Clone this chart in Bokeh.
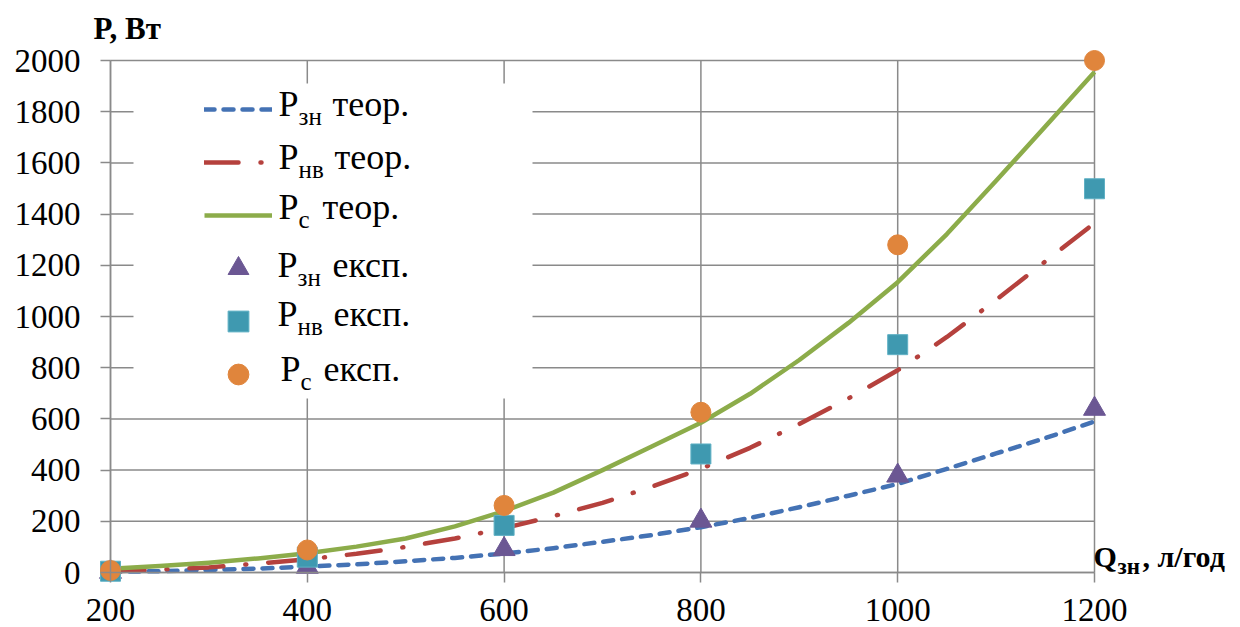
from bokeh.plotting import figure
from bokeh.models import Label, BoxAnnotation, Legend, LegendItem, FixedTicker, Range1d
from bokeh.core.properties import value
from bokeh.embed import file_html
from bokeh.resources import INLINE

# ---- data ----
q_theor = [200, 250, 300, 350, 400, 450, 500, 550, 600, 650, 700,
           750, 800, 850, 900, 950, 1000, 1050, 1100, 1150, 1200]
p_zn_theor = [3, 5, 10, 15, 23, 32, 44, 57, 74, 95, 120,
              146, 177, 213, 255, 300, 346, 405, 465, 525, 590]
p_nv_theor = [5, 11, 20, 35, 52, 73, 100, 133, 173, 220, 272,
              335, 405, 487, 580, 680, 790, 920, 1065, 1215, 1365]
p_s_theor = [15, 25, 38, 55, 75, 101, 133, 180, 240, 312, 400,
             492, 585, 698, 830, 975, 1134, 1322, 1530, 1742, 1955]

q_exp = [200, 400, 600, 800, 1000, 1200]
p_zn_exp = [2, 22, 91, 202, 378, 639]
p_nv_exp = [5, 60, 184, 463, 890, 1499]
p_s_exp = [8, 88, 262, 626, 1280, 2000]

x_ticks = [200, 400, 600, 800, 1000, 1200]
y_ticks = [0, 200, 400, 600, 800, 1000, 1200, 1400, 1600, 1800, 2000]

# ---- styling / layout ----
GRID = "#8a8a8a"
BLUE = "#4472b4"
RED = "#b5413d"
GREEN = "#8cac4a"
PURPLE = "#6b5793"
TEAL = "#3f99b0"
ORANGE = "#e0853c"
FONT = "Liberation Serif"

W, H = 1240, 627
# pixel position of the plot area (first/last ticks) on the canvas
PXL, PXR, PYT, PYB = 110, 1094, 60, 572
kx = (PXR - PXL) / (x_ticks[-1] - x_ticks[0])
ky = (PYB - PYT) / (y_ticks[-1] - y_ticks[0])
x_range = Range1d(x_ticks[0] - PXL / kx, x_ticks[0] + (W - PXL) / kx)
y_range = Range1d(y_ticks[0] - (H - PYB) / ky, y_ticks[0] + PYB / ky)

p = figure(width=W, height=H, x_range=x_range, y_range=y_range,
           output_backend="svg", toolbar_location=None,
           min_border_left=0, min_border_right=0, min_border_top=0, min_border_bottom=0)
p.outline_line_color = None
p.background_fill_color = "white"
p.border_fill_color = "white"
p.grid.visible = False

p.xaxis.ticker = FixedTicker(ticks=x_ticks)
p.yaxis.ticker = FixedTicker(ticks=y_ticks)
p.xaxis.fixed_location = y_ticks[0]
p.yaxis.fixed_location = x_ticks[0]
p.xaxis.bounds = (x_ticks[0], x_ticks[-1])
p.yaxis.bounds = (y_ticks[0], y_ticks[-1])
for ax in (p.xaxis[0], p.yaxis[0]):
    ax.axis_line_color = GRID
    ax.axis_line_width = 1.5
    ax.major_tick_line_color = GRID
    ax.major_tick_line_width = 1.5
    ax.major_tick_out = 10
    ax.major_tick_in = 0
    ax.minor_tick_line_color = None
    ax.major_label_text_font = FONT
    ax.major_label_text_font_size = "33px"
    ax.major_label_text_color = "black"
p.xaxis.major_label_standoff = 16
p.yaxis.major_label_standoff = 20

# gridlines across the plot area only
nx, ny = len(x_ticks), len(y_ticks)
p.segment(x0=x_ticks, y0=[y_ticks[0]] * nx, x1=x_ticks, y1=[y_ticks[-1]] * nx,
          line_color=GRID, line_width=1.5, level="underlay")
p.segment(x0=[x_ticks[0]] * ny, y0=y_ticks, x1=[x_ticks[-1]] * ny, y1=y_ticks,
          line_color=GRID, line_width=1.5, level="underlay")

r_zn = p.line(q_theor, p_zn_theor, line_color=BLUE, line_width=4.5,
              line_dash="10 9", line_cap="round", line_join="round")
r_nv = p.line(q_theor, p_nv_theor, line_color=RED, line_width=4.5,
              line_dash="34 22 1 22", line_cap="round", line_join="round")
r_s = p.line(q_theor, p_s_theor, line_color=GREEN, line_width=4.5, line_join="round")
m_zn = p.scatter(q_exp, p_zn_exp, marker="triangle", size=22,
                 fill_color=PURPLE, line_color=PURPLE)
m_nv = p.scatter(q_exp, p_nv_exp, marker="square", size=20,
                 fill_color=TEAL, line_color="#5fb0c4")
m_s = p.scatter(q_exp, p_s_exp, marker="circle", size=20,
                fill_color=ORANGE, line_color=ORANGE)

# legend: white box, glyph samples, texts with subscripts
p.add_layout(BoxAnnotation(left=133, right=532, top=H - 83, bottom=H - 398,
                           left_units="screen", right_units="screen",
                           top_units="screen", bottom_units="screen",
                           fill_color="white", fill_alpha=1.0, line_color=None))

legend = Legend(items=[LegendItem(label=value(" "), renderers=[r]) for r in
                       [r_zn, r_nv, r_s, m_zn, m_nv, m_s]],
                location=(204, H - 400), glyph_width=68, glyph_height=52,
                label_height=52, label_width=0, label_standoff=0, spacing=1,
                padding=0, margin=0, background_fill_alpha=0, border_line_alpha=0,
                label_text_font_size="8px")
p.add_layout(legend)

BASE_ADJ = 0.38  # observed offset of the alphabetic anchor, in em


def lab(text, px, py, size, bold=False):
    p.add_layout(Label(x=px, y=H - (py - BASE_ADJ * size), x_units="screen", y_units="screen",
                       text=text, text_font=FONT, text_font_size=f"{size}px",
                       text_font_style="bold" if bold else "normal",
                       text_color="black", text_baseline="alphabetic",
                       text_align="left"))


rows = [
    ("зн", "теор.", 278, 117, 332),
    ("нв", "теор.", 278, 170, 334),
    ("с", "теор.", 278, 220, 322),
    ("зн", "експ.", 277, 278, 332),
    ("нв", "експ.", 277, 327, 333),
    ("с", "експ.", 280, 382, 323),
]
for sub, rest, x0, base, x2 in rows:
    lab("P", x0, base, 36)
    lab(sub, x0 + 20, base + 8, 25)
    lab(rest, x2, base, 36)

# axis titles
lab("P, Вт", 93, 40, 31, bold=True)
lab("Q", 1093, 567, 30, bold=True)
lab("зн", 1117, 575, 23, bold=True)
lab(", л/год", 1142, 567, 30, bold=True)

open("out.html", "w").write(file_html(p, INLINE))
